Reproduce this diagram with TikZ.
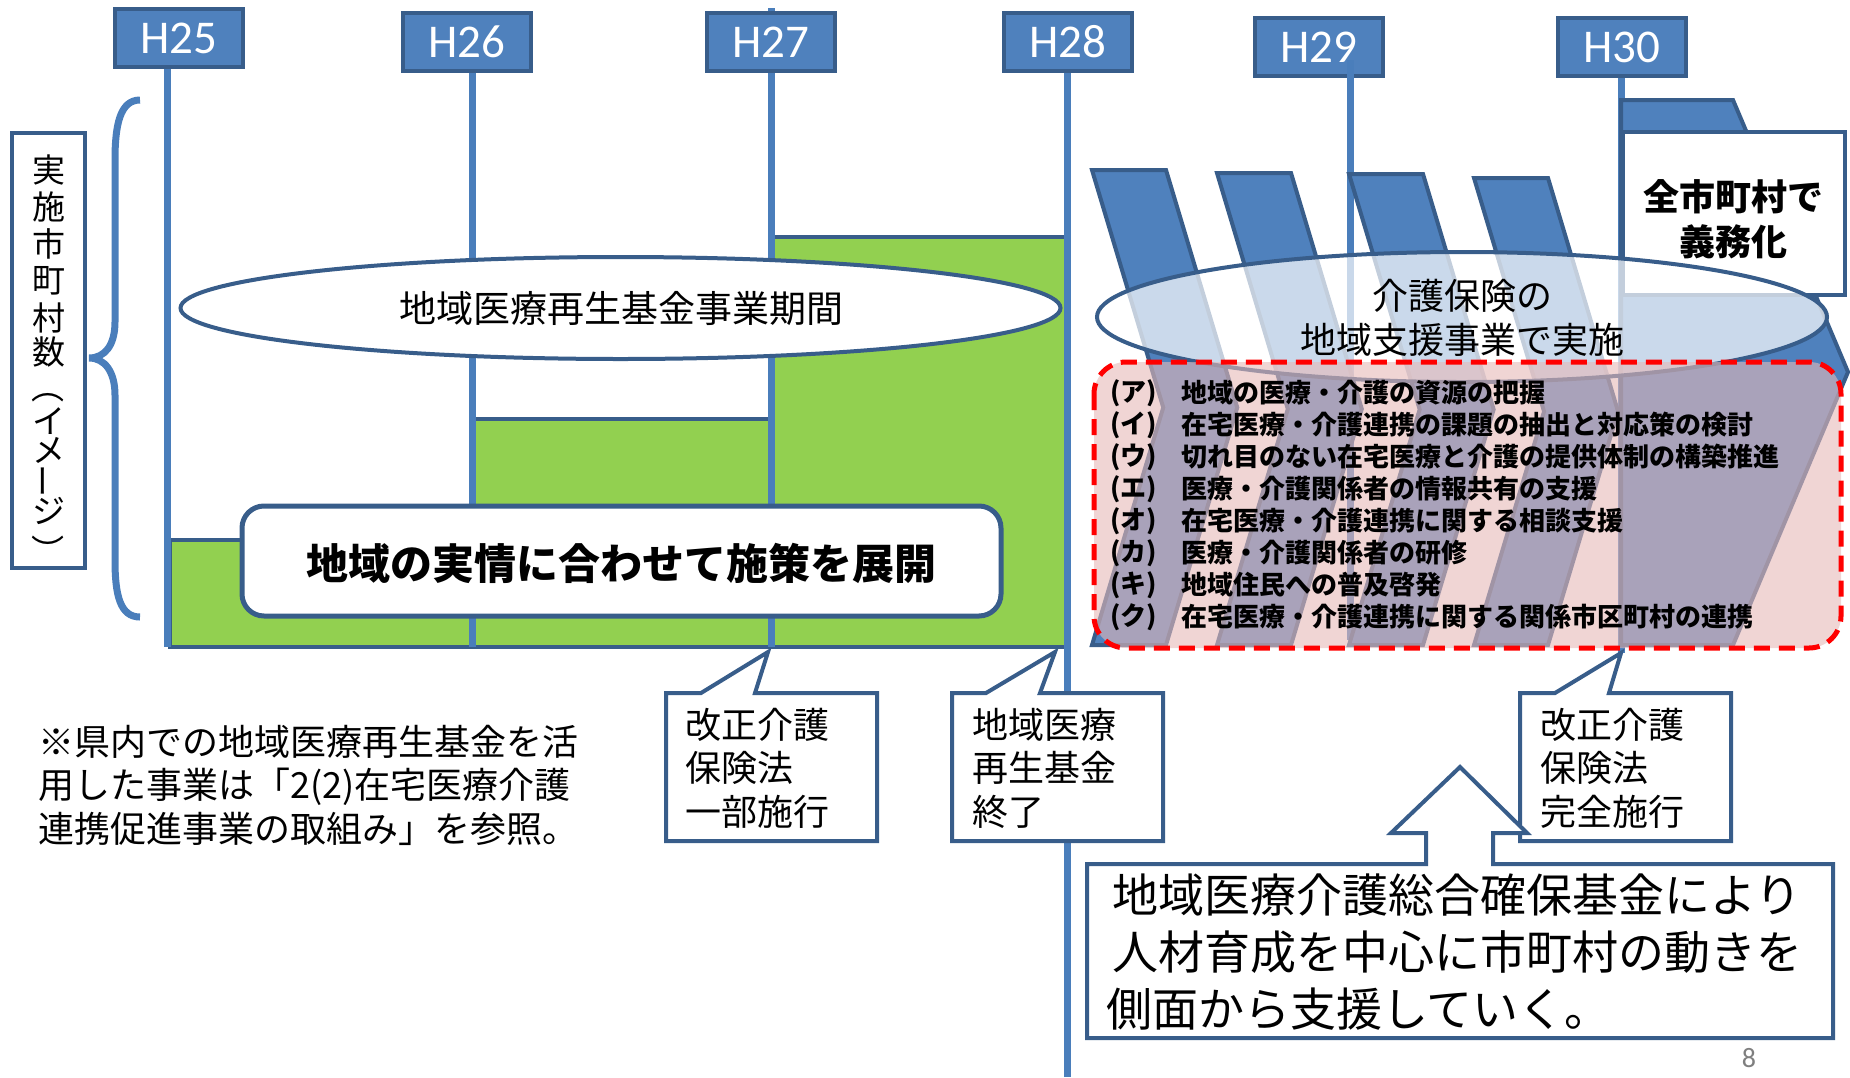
\documentclass[tikz,border=0pt]{standalone}
\usepackage{fontspec}
\usepackage{graphicx}
\newfontfamily\jp{Noto Sans CJK JP}
\newfontfamily\calib{Carlito}
\definecolor{hfill}{HTML}{4F81BD}
\definecolor{dkblue}{HTML}{385D8A}
\definecolor{lnblue}{HTML}{4A7EBB}
\definecolor{grn}{HTML}{92D050}
\definecolor{pinkf}{HTML}{E6B9B8}
\definecolor{pgray}{HTML}{7F7F7F}
\begin{document}
\begin{tikzpicture}[x=1pt,y=-1pt,
  hbox/.style={fill=hfill,draw=dkblue,line width=4pt,minimum width=128pt,minimum height=58pt,inner sep=0pt,text=white,font=\calib\fontsize{47}{50}\selectfont},
  vline/.style={draw=lnblue,line width=7pt},
  stepbox/.style={fill=grn,draw=dkblue,line width=4pt},
  wshape/.style={fill=white,draw=dkblue,line width=4pt,line join=miter},
  bar/.style={fill=hfill,draw=dkblue,line width=4pt,line join=miter},
  txt/.style={inner sep=0pt,font=\jp\fontsize{36}{43.5}\selectfont,align=left},
  lst/.style={inner sep=0pt,anchor=west,font=\jp\bfseries\fontsize{26}{30}\selectfont}]
\useasboundingbox (0,0) rectangle (1850,1077);
% green steps
\draw[stepbox] (170,540) rectangle (472,647);
\draw[stepbox] (472,419) rectangle (771,647);
\draw[stepbox] (771,237) rectangle (1067,647);
% vertical timeline lines
\draw[vline] (167,69) -- (167,647);
\draw[vline] (472.5,73) -- (472.5,647);
\draw[vline] (771,8) -- (771,647);
\draw[vline] (1067,73) -- (1067,1077);
\draw[vline] (1621,78) -- (1621,653);
% year boxes
\node[hbox] (h25) at (179,38) {H25};
\node[hbox] (h26) at (467,42) {H26};
\node[hbox] (h27) at (771,42) {H27};
\node[hbox] (h28) at (1068,42) {H28};
\node[hbox] (h29) at (1318.5,47) {H29};
\node[hbox] (h30) at (1621.5,47) {H30};
\draw[vline] (1350,60) -- (1350,640);
% left label and brace
\draw[fill=white,draw=dkblue,line width=4pt] (12,133) rectangle (85,568);
\foreach \c/\y in {実/170,施/207,市/244,町/281,村/318,数/352,{\rotatebox{-90}{（}}/387,イ/421,メ/450,{\rotatebox{90}{ー}}/481,ジ/511,{\rotatebox{-90}{）}}/551}
  \node[inner sep=0pt,font=\jp\fontsize{33}{33}\selectfont] at (48.5,\y) {\c};
\draw[lnblue,line width=7pt] (140,100) .. controls (120,100) and (115,125) .. (115,160) -- (115,322)
  .. controls (115,345) and (105,358) .. (89,358) .. controls (105,358) and (115,372) .. (115,395)
  -- (115,560) .. controls (115,595) and (120,617) .. (140,617);
% left ellipse
\draw[fill=white,draw=dkblue,line width=4pt] (620.5,308) ellipse [x radius=440,y radius=51];
\node[inner sep=0pt,font=\jp\fontsize{37}{37}\selectfont] (e1) at (621,308) {地域医療再生基金事業期間};
% rounded box
\draw[fill=white,draw=dkblue,line width=5pt,rounded corners=22pt] (242,506) rectangle (1001,616);
\node[inner sep=0pt,font=\jp\bfseries\fontsize{42}{42}\selectfont] (rb) at (621.5,563) {地域の実情に合わせて施策を展開};
% callouts
\draw[wshape] (666,693) -- (701,693) -- (768,652) -- (755,693) -- (877,693) -- (877,841) -- (666,841) -- cycle;
\draw[wshape] (952,693) -- (986,693) -- (1055,652) -- (1040,693) -- (1163,693) -- (1163,841) -- (952,841) -- cycle;
\draw[wshape] (1520,693) -- (1555,693) -- (1621,653) -- (1609,693) -- (1731,693) -- (1731,841) -- (1520,841) -- cycle;
\node[txt,anchor=west] (c1) at (685,768) {改正介護\\保険法\\一部施行};
\node[txt,anchor=west] (c2) at (972,768) {地域医療\\再生基金\\終了};
\node[txt,anchor=west] (c3) at (1540,768) {改正介護\\保険法\\完全施行};
% big box with up arrow
\draw[wshape] (1087,864) -- (1426,864) -- (1426,833) -- (1391,833) -- (1460,767) -- (1527,833) -- (1493,833) -- (1493,864)
  -- (1833,864) -- (1833,1038) -- (1087,1038) -- cycle;
\node[inner sep=0pt,anchor=west,align=left,font=\jp\fontsize{46}{57}\selectfont] (big) at (1106,952)
  {\hspace*{6pt}地域医療介護総合確保基金により\\\hspace*{6pt}人材育成を中心に市町村の動きを\\側面から支援していく。};
% note
\node[txt,anchor=west] (note) at (38,785) {※県内での地域医療再生基金を活\\用した事業は「2(2)在宅医療介護\\連携促進事業の取組み」を参照。};
% right side bars
\foreach \x/\t in {1092/170,1217/173,1349/174,1474/178}{
  \pgfmathsetmacro\bym{(\t+645)/2}
  \pgfmathsetmacro\bdx{0.3*(\bym-\t)}
  \draw[bar] (\x,\t) -- (\x+74,\t) -- (\x+74+\bdx,\bym) -- (\x+74,645) -- (\x,645) -- (\x+\bdx,\bym) -- cycle;
}
\draw[bar] (1621,100) -- (1733,100) -- (1848,372) -- (1733,645) -- (1621,645) -- cycle;
\draw[fill=white,draw=dkblue,line width=4pt] (1623,132) rectangle (1845,295);
\node[inner sep=0pt,align=center,font=\jp\bfseries\fontsize{36}{45}\selectfont] (gim) at (1733,219) {全市町村で\\義務化};
% right ellipse
\draw[fill=white,fill opacity=0.7,draw=dkblue,line width=4pt] (1462,317) ellipse [x radius=365,y radius=65];
% red dashed box
\draw[fill=pinkf,fill opacity=0.6,draw=red,line width=5pt,dash pattern=on 16pt off 9pt,rounded corners=32pt] (1094,362) rectangle (1841,648);
\node[txt,align=center] (e2) at (1462,318) {介護保険の\\地域支援事業で実施};
\foreach \l/\s [count=\i from 0] in {ア/地域の医療・介護の資源の把握,イ/在宅医療・介護連携の課題の抽出と対応策の検討,ウ/切れ目のない在宅医療と介護の提供体制の構築推進,エ/医療・介護関係者の情報共有の支援,オ/在宅医療・介護連携に関する相談支援,カ/医療・介護関係者の研修,キ/地域住民への普及啓発,ク/在宅医療・介護連携に関する関係市区町村の連携}{
  \node[lst] (l\i) at (1110,393+32*\i) {(\l)};
  \node[lst] (t\i) at (1181,393+32*\i) {\s};
}
\node[inner sep=0pt,text=pgray,font=\calib\fontsize{28}{28}\selectfont] (pg) at (1749,1058) {8};
\end{tikzpicture}
\end{document}
